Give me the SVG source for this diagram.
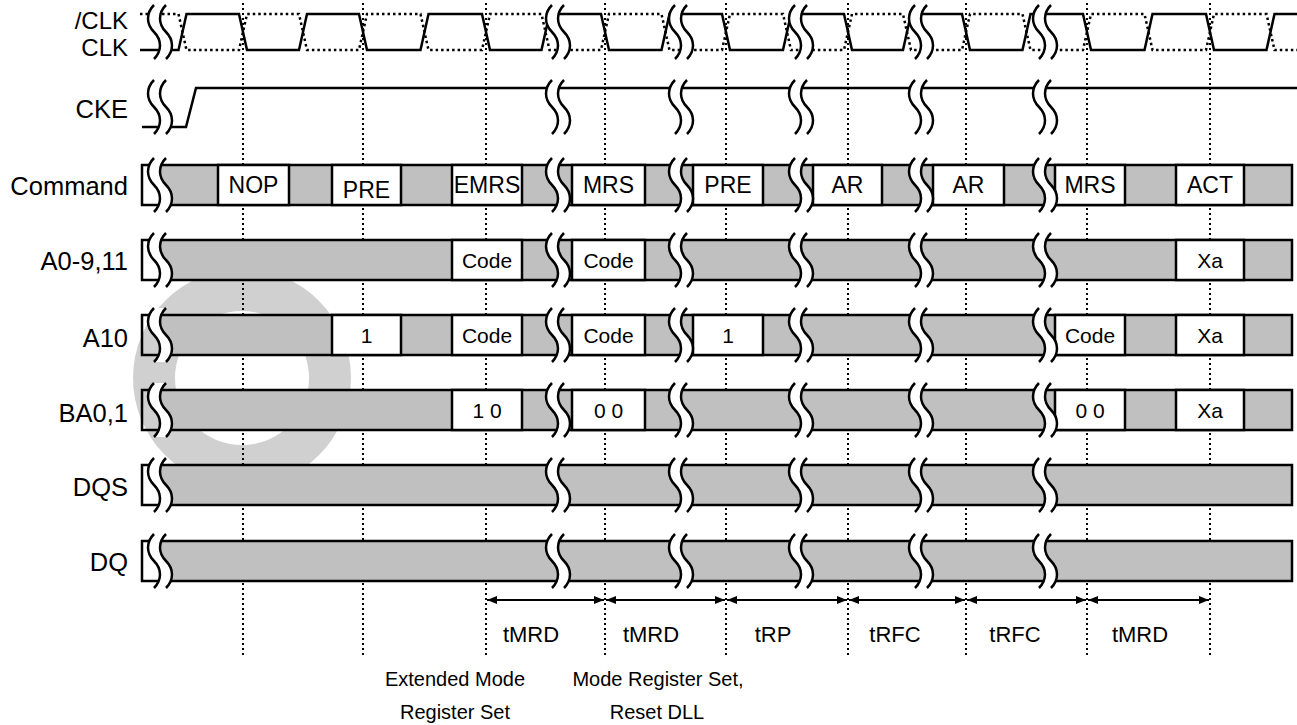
<svg xmlns="http://www.w3.org/2000/svg" xmlns:xlink="http://www.w3.org/1999/xlink" width="1297" height="725" viewBox="0 0 1297 725">
<style>
text{font-family:"Liberation Sans",Arial,sans-serif;fill:#000}
.lbl{font-size:25.5px;text-anchor:end}
.clbl{font-size:24px;text-anchor:end}
.cmd{font-size:23px;text-anchor:middle}
.val{font-size:21px;text-anchor:middle}
.tm{font-size:22px;text-anchor:middle}
.note{font-size:20px;text-anchor:middle}
.grid{stroke:#000;stroke-width:2;stroke-dasharray:2 3;fill:none}
.wave{stroke:#000;stroke-width:2.5;fill:none;stroke-linejoin:miter}
.dwave{stroke:#000;stroke-width:2.5;fill:none;stroke-dasharray:2.5 3}
.bus{fill:#c0c0c0;stroke:none}
.edge{stroke:#000;stroke-width:2.5;fill:none}
.box{fill:#fff;stroke:#000;stroke-width:2.5}
.arr{stroke:#000;stroke-width:1.8;fill:none;marker-start:url(#ah);marker-end:url(#ah)}
.wm{fill:#d0d0d0;stroke:none}
</style>
<defs>
<marker id="ah" viewBox="0 0 10 8" refX="10" refY="4" markerWidth="10" markerHeight="8" markerUnits="userSpaceOnUse" orient="auto-start-reverse">
<path d="M0,0 L10,4 L0,8 Z" fill="#000"/>
</marker>
<g id="brk">
<path d="M-6,0 C-14,8 -14,19 -6,27 C2,35 2,46 -6,54 L6,54 C14,46 14,35 6,27 C-2,19 -2,8 6,0 Z" fill="#fff" stroke="none"/>
<path d="M-6,0 C-14,8 -14,19 -6,27 C2,35 2,46 -6,54 M6,0 C-2,8 -2,19 6,27 C14,35 14,46 6,54" fill="none" stroke="#000" stroke-width="2.5"/>
</g>
</defs>
<rect width="1297" height="725" fill="#fff"/>

<g id="watermark">
<path class="wm" fill-rule="evenodd" d="M351,378 A109,109 0 1 0 133,378 A109,109 0 1 0 351,378 Z M309,378 A67,67 0 1 1 175,378 A67,67 0 1 1 309,378 Z"/>
</g>

<g id="gridlines">
<path class="grid" d="M243,3 V655 M363,3 V655 M486,3 V655 M605,3 V655 M726,3 V655 M848,3 V655 M966,3 V655 M1087,3 V655 M1210,3 V655"/>
</g>

<g id="clk">
<text class="clbl" x="128" y="29">/CLK</text>
<text class="clbl" x="128" y="56">CLK</text>
<path class="dwave" d="M140,14 L178.5,14 L186.5,50 L239,50 L247,14 L299,14 L307,50 L359,50 L367,14 L420.5,14 L428.5,50 L482,50 L490,14 L541.5,14 L549.5,50 L601,50 L609,14 L661.5,14 L669.5,50 L722,50 L730,14 L783,14 L791,50 L844,50 L852,14 L903,14 L911,50 L962,50 L970,14 L1022.5,14 L1030.5,50 L1083,50 L1091,14 L1144.5,14 L1152.5,50 L1206,50 L1214,14 L1266.5,14 L1274.5,50 L1297,50"/>
<path class="wave" d="M140,50 L178.5,50 L186.5,14 L239,14 L247,50 L299,50 L307,14 L359,14 L367,50 L420.5,50 L428.5,14 L482,14 L490,50 L541.5,50 L549.5,14 L601,14 L609,50 L661.5,50 L669.5,14 L722,14 L730,50 L783,50 L791,14 L844,14 L852,50 L903,50 L911,14 L962,14 L970,50 L1022.5,50 L1030.5,14 L1083,14 L1091,50 L1144.5,50 L1152.5,14 L1206,14 L1214,50 L1266.5,50 L1274.5,14 L1297,14"/>
<use xlink:href="#brk" href="#brk" transform="translate(160,5)"/>
<use xlink:href="#brk" href="#brk" transform="translate(558,5)"/>
<use xlink:href="#brk" href="#brk" transform="translate(681,5)"/>
<use xlink:href="#brk" href="#brk" transform="translate(801,5)"/>
<use xlink:href="#brk" href="#brk" transform="translate(921,5)"/>
<use xlink:href="#brk" href="#brk" transform="translate(1045,5)"/>
</g>

<g id="cke">
<text class="lbl" x="128" y="118">CKE</text>
<path class="wave" d="M142,127 L186,127 L196,88 L1297,88"/>
<use xlink:href="#brk" href="#brk" transform="translate(160,80)"/>
<use xlink:href="#brk" href="#brk" transform="translate(558,80)"/>
<use xlink:href="#brk" href="#brk" transform="translate(681,80)"/>
<use xlink:href="#brk" href="#brk" transform="translate(801,80)"/>
<use xlink:href="#brk" href="#brk" transform="translate(921,80)"/>
<use xlink:href="#brk" href="#brk" transform="translate(1045,80)"/>
</g>

<g id="command">
<text class="lbl" x="128" y="195">Command</text>
<rect class="bus" x="160" y="165" width="1132" height="40"/>
<path class="edge" d="M142,165 H1292 V205 H142 Z"/>
<rect class="box" x="218" y="165" width="71" height="40"/>
<rect class="box" x="332" y="165" width="69" height="40"/>
<rect class="box" x="452" y="165" width="70" height="40"/>
<rect class="box" x="572" y="165" width="73" height="40"/>
<rect class="box" x="693" y="165" width="70" height="40"/>
<rect class="box" x="813" y="165" width="69" height="40"/>
<rect class="box" x="933" y="165" width="71" height="40"/>
<rect class="box" x="1055" y="165" width="70" height="40"/>
<rect class="box" x="1176" y="165" width="68" height="40"/>
<use xlink:href="#brk" href="#brk" transform="translate(160,158)"/>
<use xlink:href="#brk" href="#brk" transform="translate(558,158)"/>
<use xlink:href="#brk" href="#brk" transform="translate(681,158)"/>
<use xlink:href="#brk" href="#brk" transform="translate(801,158)"/>
<use xlink:href="#brk" href="#brk" transform="translate(921,158)"/>
<use xlink:href="#brk" href="#brk" transform="translate(1045,158)"/>
<text class="cmd" x="253.5" y="193">NOP</text>
<text class="cmd" x="366.5" y="198">PRE</text>
<text class="cmd" x="487" y="193">EMRS</text>
<text class="cmd" x="608.5" y="193">MRS</text>
<text class="cmd" x="728" y="193">PRE</text>
<text class="cmd" x="847.5" y="193">AR</text>
<text class="cmd" x="968.5" y="193">AR</text>
<text class="cmd" x="1090" y="193">MRS</text>
<text class="cmd" x="1210" y="193">ACT</text>
</g>

<g id="a0911">
<text class="lbl" x="128" y="270">A0-9,11</text>
<rect class="bus" x="160" y="240" width="1132" height="40"/>
<path class="edge" d="M142,240 H1292 V280 H142 Z"/>
<rect class="box" x="452" y="240" width="70" height="40"/>
<rect class="box" x="572" y="240" width="73" height="40"/>
<rect class="box" x="1176" y="240" width="68" height="40"/>
<use xlink:href="#brk" href="#brk" transform="translate(160,233)"/>
<use xlink:href="#brk" href="#brk" transform="translate(558,233)"/>
<use xlink:href="#brk" href="#brk" transform="translate(681,233)"/>
<use xlink:href="#brk" href="#brk" transform="translate(801,233)"/>
<use xlink:href="#brk" href="#brk" transform="translate(921,233)"/>
<use xlink:href="#brk" href="#brk" transform="translate(1045,233)"/>
<text class="val" x="487" y="268">Code</text>
<text class="val" x="608.5" y="268">Code</text>
<text class="val" x="1210" y="268">Xa</text>
</g>

<g id="a10">
<text class="lbl" x="128" y="347">A10</text>
<rect class="bus" x="160" y="315" width="1132" height="40"/>
<path class="edge" d="M142,315 H1292 V355 H142 Z"/>
<rect class="box" x="332" y="315" width="69" height="40"/>
<rect class="box" x="452" y="315" width="70" height="40"/>
<rect class="box" x="572" y="315" width="73" height="40"/>
<rect class="box" x="693" y="315" width="70" height="40"/>
<rect class="box" x="1055" y="315" width="70" height="40"/>
<rect class="box" x="1176" y="315" width="68" height="40"/>
<use xlink:href="#brk" href="#brk" transform="translate(160,308)"/>
<use xlink:href="#brk" href="#brk" transform="translate(558,308)"/>
<use xlink:href="#brk" href="#brk" transform="translate(681,308)"/>
<use xlink:href="#brk" href="#brk" transform="translate(801,308)"/>
<use xlink:href="#brk" href="#brk" transform="translate(921,308)"/>
<use xlink:href="#brk" href="#brk" transform="translate(1045,308)"/>
<text class="val" x="366.5" y="343">1</text>
<text class="val" x="487" y="343">Code</text>
<text class="val" x="608.5" y="343">Code</text>
<text class="val" x="728" y="343">1</text>
<text class="val" x="1090" y="343">Code</text>
<text class="val" x="1210" y="343">Xa</text>
</g>

<g id="ba01">
<text class="lbl" x="128" y="422">BA0,1</text>
<rect class="bus" x="160" y="390" width="1132" height="40"/>
<path class="edge" d="M142,390 H1292 V430 H142 Z"/>
<rect class="box" x="452" y="390" width="70" height="40"/>
<rect class="box" x="572" y="390" width="73" height="40"/>
<rect class="box" x="1055" y="390" width="70" height="40"/>
<rect class="box" x="1176" y="390" width="68" height="40"/>
<use xlink:href="#brk" href="#brk" transform="translate(160,383)"/>
<use xlink:href="#brk" href="#brk" transform="translate(558,383)"/>
<use xlink:href="#brk" href="#brk" transform="translate(681,383)"/>
<use xlink:href="#brk" href="#brk" transform="translate(801,383)"/>
<use xlink:href="#brk" href="#brk" transform="translate(921,383)"/>
<use xlink:href="#brk" href="#brk" transform="translate(1045,383)"/>
<text class="val" x="487" y="418">1 0</text>
<text class="val" x="608.5" y="418">0 0</text>
<text class="val" x="1090" y="418">0 0</text>
<text class="val" x="1210" y="418">Xa</text>
</g>

<g id="dqs">
<text class="lbl" x="128" y="496">DQS</text>
<rect class="bus" x="160" y="465" width="1132" height="40"/>
<path class="edge" d="M142,465 H1292 V505 H142 Z"/>
<use xlink:href="#brk" href="#brk" transform="translate(160,458)"/>
<use xlink:href="#brk" href="#brk" transform="translate(558,458)"/>
<use xlink:href="#brk" href="#brk" transform="translate(681,458)"/>
<use xlink:href="#brk" href="#brk" transform="translate(801,458)"/>
<use xlink:href="#brk" href="#brk" transform="translate(921,458)"/>
<use xlink:href="#brk" href="#brk" transform="translate(1045,458)"/>
</g>

<g id="dq">
<text class="lbl" x="128" y="571">DQ</text>
<rect class="bus" x="160" y="541" width="1132" height="40"/>
<path class="edge" d="M142,541 H1292 V581 H142 Z"/>
<use xlink:href="#brk" href="#brk" transform="translate(160,534)"/>
<use xlink:href="#brk" href="#brk" transform="translate(558,534)"/>
<use xlink:href="#brk" href="#brk" transform="translate(681,534)"/>
<use xlink:href="#brk" href="#brk" transform="translate(801,534)"/>
<use xlink:href="#brk" href="#brk" transform="translate(921,534)"/>
<use xlink:href="#brk" href="#brk" transform="translate(1045,534)"/>
</g>

<g id="connectors">
<path class="arr" d="M487,600 H604"/>
<path class="arr" d="M606,600 H725"/>
<path class="arr" d="M727,600 H847"/>
<path class="arr" d="M849,600 H965"/>
<path class="arr" d="M967,600 H1086"/>
<path class="arr" d="M1088,600 H1209"/>
</g>

<g id="timing-labels">
<text class="tm" x="531" y="642">tMRD</text>
<text class="tm" x="651" y="642">tMRD</text>
<text class="tm" x="773" y="642">tRP</text>
<text class="tm" x="895" y="642">tRFC</text>
<text class="tm" x="1015" y="642">tRFC</text>
<text class="tm" x="1140" y="642">tMRD</text>
</g>

<g id="notes">
<text class="note" x="455" y="686">Extended Mode</text>
<text class="note" x="455" y="719">Register Set</text>
<text class="note" x="658" y="686">Mode Register Set,</text>
<text class="note" x="657" y="719">Reset DLL</text>
</g>
</svg>
